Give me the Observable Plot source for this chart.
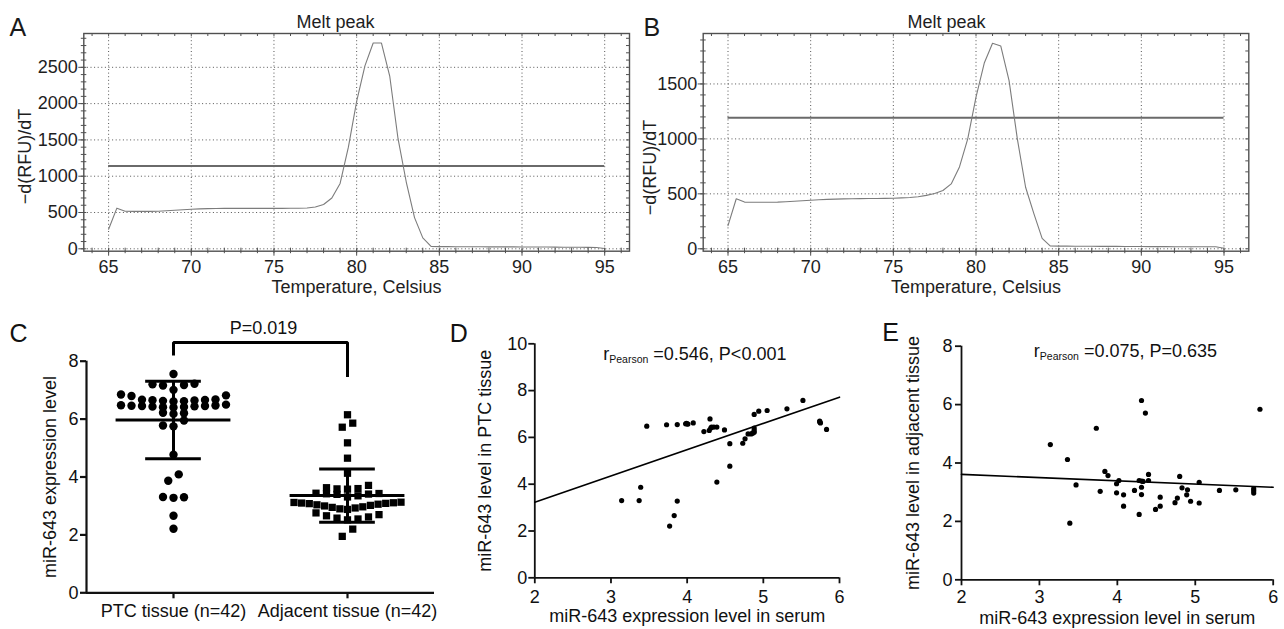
<!DOCTYPE html>
<html>
<head>
<meta charset="utf-8">
<script src="https://cdn.jsdelivr.net/npm/d3@7"></script>
<script src="https://cdn.jsdelivr.net/npm/@observablehq/plot@0.6"></script>
<style>
html,body{margin:0;padding:0;background:#fff;}
#fig{position:relative;width:1284px;height:629px;overflow:hidden;background:#fff;}
#fig svg{position:absolute;overflow:visible;}
</style>
</head>
<body>
<div id="fig"></div>
<script>
// ---------------- data ----------------
// Panels A/B: melt peak curves
const meltTemp = [65,65.5,66,66.5,67,67.5,68,68.5,69,69.5,
                  70,70.5,71,71.5,72,72.5,73,73.5,74,74.5,
                  75,75.5,76,76.5,77,77.5,78,78.5,79,79.5,
                  80,80.5,81,81.5,82,82.5,83,83.5,84,84.5,
                  85,85.5,86,86.5,87,87.5,88,88.5,89,89.5,
                  90,90.5,91,91.5,92,92.5,93,93.5,94,94.5,
                  95];
const meltA = [270,560,518,515,515,516,518,524,531,538,
               545,550,554,556,557,557,557,557,557,557,
               557,557,558,558,562,575,610,700,900,1400,
               2030,2520,2835,2835,2380,1520,920,430,150,32,
               30,30,29,29,28,28,27,27,26,26,
               25,25,24,24,23,22,22,21,20,19,
               5];
const meltB = [210,455,425,424,424,424,425,428,432,437,
               442,446,450,452,454,455,456,457,458,459,
               460,463,467,474,486,503,530,590,745,1000,
               1380,1690,1870,1845,1530,1000,560,320,95,25,
               24,24,23,23,23,22,22,22,21,21,
               21,20,20,20,19,19,19,18,18,18,
               5];
const thresholdA = [1140];
const thresholdB = [1192];
const meltXTicks = [65, 70, 75, 80, 85, 90, 95];
const meltYTicksA = [0, 500, 1000, 1500, 2000, 2500];
const meltYTicksB = [0, 500, 1000, 1500];
const meltTitle = "Melt peak";
const meltXLabel = "Temperature, Celsius";
const meltYLabel = "\u2212d(RFU)/dT";

// Panel C: scatter dot plot
const groupNames = ["PTC tissue (n=42)", "Adjacent tissue (n=42)"];
const ptcTissue = [7.56,
  7.22, 7.20, 7.18, 7.16, 7.01,
  6.85, 6.82, 6.80, 6.68, 6.67, 6.66, 6.65, 6.64, 6.63, 6.62, 6.61,
  6.50, 6.48, 6.47, 6.46, 6.45, 6.45, 6.44, 6.43, 6.42, 6.41, 6.40,
  6.22, 6.20, 6.18,
  5.95, 5.78, 5.75,
  4.77, 4.09, 3.87, 3.31, 3.30, 3.28, 2.66, 2.21];
const adjacentTissue = [6.15, 5.86, 5.72, 5.18, 4.65, 4.13,
  3.71, 3.63, 3.60, 3.59, 3.58,
  3.44, 3.43, 3.42, 3.41, 3.40, 3.35, 3.31,
  3.13, 3.12, 3.11, 3.10, 3.09, 3.08, 3.06, 3.04, 3.02, 3.00, 2.97, 2.95, 2.93, 2.90, 2.88,
  2.76, 2.70, 2.66, 2.62, 2.58, 2.55, 2.52,
  2.20, 1.95];
const groupMean = [5.97, 3.36];
const groupSD = [1.34, 0.92];
const bracketX = [0, 0, 1, 1];
const bracketY = [8.2, 8.65, 8.65, 7.45];
const pLabel = "P=0.019";
const cYTicks = [0, 2, 4, 6, 8];
const cYLabel = "miR-643 expression level";

// Panels D/E: correlation scatter
const serumD = [3.14,3.37,3.39,3.47,3.73,3.77,3.83,3.87,3.87,3.98,
                4.00,4.08,4.22,4.29,4.30,4.32,4.35,4.39,4.39,4.49,
                4.56,4.56,4.73,4.76,4.80,4.84,4.88,4.88,4.88,4.94,
                5.05,5.31,5.52,5.74,5.75,5.83,4.01,4.31,4.88,5.74,
                4.86,3.99];
const ptcD   = [3.30,3.30,3.87,6.48,6.54,2.21,2.66,6.55,3.28,6.58,
                6.58,6.62,6.25,6.30,6.79,6.44,6.44,6.44,4.09,6.32,
                5.73,4.77,5.75,5.94,6.15,6.15,6.22,6.40,6.98,7.12,
                7.15,7.22,7.58,6.70,6.62,6.34,6.57,6.40,6.30,6.66,
                6.18,6.60];
const serumE = [3.14,3.36,3.39,3.47,3.73,3.78,3.84,3.88,3.99,3.99,
                4.02,4.08,4.08,4.22,4.28,4.28,4.31,4.31,4.31,4.33,
                4.36,4.40,4.40,4.49,4.55,4.55,4.74,4.77,4.80,4.83,
                4.89,4.90,4.94,5.05,5.05,5.31,5.52,5.75,5.75,5.83,
                4.31,5.75];
const adjE   = [4.63,4.12,1.94,3.25,5.19,3.03,3.71,3.57,2.98,3.29,
                3.40,2.91,2.52,3.06,2.24,3.40,6.14,3.17,2.92,3.37,
                5.71,3.61,3.40,2.41,2.83,2.52,2.64,2.80,3.54,3.15,
                2.91,3.08,2.69,3.34,2.63,3.06,3.08,3.12,2.97,5.84,
                3.38,3.05];
const corrXTicks = [2, 3, 4, 5, 6];
const dYTicks = [0, 2, 4, 6, 8, 10];
const eYTicks = [0, 2, 4, 6, 8];
const fitX = [2, 6];
const fitD = [3.23, 7.72];
const fitE = [3.61, 3.17];
const statD = ["r", "Pearson", " =0.546, P<0.001"];
const statE = ["r", "Pearson", " =0.075, P=0.635"];
const corrXLabel = "miR-643 expression level in serum";
const dYLabel = "miR-643 level in PTC tissue";
const eYLabel = "miR-643 level in adjacent tissue";

// ---------------- helpers ----------------
const FONT = '"Liberation Sans", Arial, Helvetica, sans-serif';
const fig = document.getElementById("fig");
function place(svg, left, top) {
  svg.style.position = "absolute";
  svg.style.left = left + "px";
  svg.style.top = top + "px";
  svg.style.maxWidth = "none";
  svg.style.background = "transparent";
  svg.style.overflow = "visible";
  fig.appendChild(svg);
}
// text placed at (px, py) svg coords: baseline for horizontal text, centre for rotated text
function lbl(text, px, py, m, o = {}) {
  const fs = o.fontSize ?? 18;
  const rot = o.rotate ?? 0;
  return Plot.text([text], {
    text: d => d,
    frameAnchor: "top-left",
    dx: px - m.left,
    dy: py - m.top - (rot ? 0 : 0.32 * fs),
    lineAnchor: "middle",
    textAnchor: o.textAnchor ?? "middle",
    fontSize: fs,
    rotate: rot,
    fill: o.fill ?? "#111"
  });
}
function subscriptFix(svg) {
  const ns = "http://www.w3.org/2000/svg";
  svg.querySelectorAll("text").forEach(t => {
    if (!t.textContent.includes("|")) return;
    const parts = t.textContent.split("|");
    t.textContent = "";
    const a = document.createElementNS(ns, "tspan"); a.textContent = parts[0]; t.appendChild(a);
    const b = document.createElementNS(ns, "tspan"); b.textContent = parts[1];
    b.setAttribute("font-size", "10.5"); b.setAttribute("dy", "2.5"); t.appendChild(b);
    const c = document.createElementNS(ns, "tspan"); c.textContent = parts[2];
    c.setAttribute("dy", "-2.5"); t.appendChild(c);
  });
}
// scatter-dot-plot layout: values grouped into rows, spread symmetrically, lowest value in the centre
function rowSwarm(values, t, sMax, wMax) {
  const idx = d3.range(values.length).sort((a, b) => values[b] - values[a]);
  const out = new Array(values.length);
  let k = 0, flip = 1;
  while (k < idx.length) {
    const start = values[idx[k]];
    const row = [];
    while (k < idx.length && start - values[idx[k]] <= t + 1e-9) row.push(idx[k++]);
    const n = row.length;
    const s = n > 1 ? Math.min(sMax, wMax / (n - 1)) : 0;
    const pos = d3.range(n).map(j => (j - (n - 1) / 2) * s);
    const f = flip;
    pos.sort((a, b) => Math.abs(a) - Math.abs(b) || f * (b - a));
    row.sort((a, b) => values[a] - values[b]);
    row.forEach((i, j) => { out[i] = pos[j]; });
    flip = -flip;
  }
  return out;
}

// ---------------- panels A / B ----------------
function meltPanel(vals, thr, yTicks, yDomain, W, m, left, t) {
  const H = 300;
  const pw = W - m.left - m.right, ph = H - m.top - m.bottom;
  const data = meltTemp.map((x, i) => ({t: x, v: vals[i]}));
  const minorX = d3.range(64, 97);
  const minorY = d3.range(0, yDomain[1], 100);
  const ext = d3.extent(meltTemp);
  const ink = "#505050";
  const svg = Plot.plot({
    width: W, height: H,
    marginTop: m.top, marginRight: m.right, marginBottom: m.bottom, marginLeft: m.left,
    x: {domain: [63.5, 96.5], label: null},
    y: {domain: yDomain, label: null},
    style: {fontFamily: FONT, fontSize: "18px", color: "#1e1e1e", background: "transparent", overflow: "visible"},
    marks: [
      Plot.gridX({ticks: meltXTicks, stroke: "#555", strokeOpacity: 1, strokeWidth: 1, strokeDasharray: "1,2.6"}),
      Plot.gridY({ticks: yTicks, stroke: "#555", strokeOpacity: 1, strokeWidth: 1, strokeDasharray: "1,2.6"}),
      Plot.ruleY(thr, {y: d => d, x1: ext[0], x2: ext[1], stroke: "#6a6a6a", strokeWidth: 2}),
      Plot.line(data, {x: "t", y: "v", stroke: "#7c7c7c", strokeWidth: 1.1}),
      Plot.frame({stroke: ink, strokeWidth: 1.4}),
      Plot.ruleX(minorX, {x: d => d, insetTop: ph - 3, insetBottom: -2.5, stroke: ink}),
      Plot.ruleX(minorX, {x: d => d, insetBottom: ph - 3, stroke: ink}),
      Plot.ruleY(minorY, {y: d => d, insetRight: pw - 3, insetLeft: -2.5, stroke: ink}),
      Plot.ruleY(minorY, {y: d => d, insetLeft: pw - 3, stroke: ink}),
      Plot.axisX({ticks: meltXTicks, tickSize: 5, tickPadding: 4, tickFormat: d => String(d), stroke: ink, label: null, fontSize: 18}),
      Plot.axisY({ticks: yTicks, tickSize: 5, tickPadding: 1, tickFormat: d => String(d), stroke: ink, label: null, fontSize: 18}),
      lbl(t.letter, t.letterX, 35, m, {fontSize: 25, textAnchor: "start", fill: "#1a1a1a"}),
      lbl(meltTitle, t.titleX, 27, m, {fill: "#1e1e1e"}),
      lbl(meltXLabel, t.xlabX, 292, m, {fill: "#1e1e1e"}),
      lbl(meltYLabel, t.ylabX, t.ylabY, m, {rotate: -90, fill: "#1e1e1e"})
    ]
  });
  place(svg, left, 0);
}
meltPanel(meltA, thresholdA, meltYTicksA, [-33, 2966], 640,
  {top: 33, right: 11, bottom: 49.3, left: 83.3}, 0,
  {letter: "A", letterX: 9, titleX: 335, xlabX: 356, ylabX: 25, ylabY: 156});
meltPanel(meltB, thresholdB, meltYTicksB, [-22, 1959], 644,
  {top: 33, right: 35.7, bottom: 49.3, left: 62.7}, 640,
  {letter: "B", letterX: 3, titleX: 306, xlabX: 335.5, ylabX: 10, ylabY: 167});

// ---------------- panel C ----------------
(function () {
  const W = 440, H = 329, m = {top: 60.7, right: 6, bottom: 36.7, left: 86};
  const yDom = [0, 8], xDom = [-0.5, 1.5];
  const kx = (W - m.left - m.right) / (xDom[1] - xDom[0]);
  const offP = rowSwarm(ptcTissue, 0.26, 10.5, 107);
  const offA = rowSwarm(adjacentTissue, 0.26, 10.5, 107);
  const ptc = ptcTissue.map((v, i) => ({x: offP[i] / kx, y: v}));
  const adj = adjacentTissue.map((v, i) => ({x: 1 + offA[i] / kx, y: v}));
  const stats = groupMean.map((mu, i) => ({g: i, mu, sd: groupSD[i]}));
  const bracket = bracketX.map((x, i) => ({x, y: bracketY[i]}));
  const lw = 2.2;
  const svg = Plot.plot({
    width: W, height: H,
    marginTop: m.top, marginRight: m.right, marginBottom: m.bottom, marginLeft: m.left,
    x: {domain: xDom, label: null},
    y: {domain: yDom, label: null},
    style: {fontFamily: FONT, fontSize: "18px", color: "#111", background: "transparent", overflow: "visible"},
    marks: [
      Plot.ruleY([yDom[0]], {y: d => d, stroke: "#111", strokeWidth: lw}),
      Plot.ruleX([xDom[0]], {x: d => d, y1: yDom[0], y2: yDom[1], stroke: "#111", strokeWidth: lw}),
      Plot.axisY({ticks: cYTicks, tickSize: 6, tickPadding: 2, strokeWidth: lw, stroke: "#111", label: null, fontSize: 18}),
      Plot.axisX({ticks: [0, 1], tickSize: 6, tickPadding: 5, strokeWidth: lw, stroke: "#111", label: null, fontSize: 18,
                  tickFormat: i => groupNames[i]}),
      Plot.dot(ptc, {x: "x", y: "y", r: 4.2, fill: "#000", stroke: "none"}),
      Plot.dot(adj, {x: "x", y: "y", r: 4.1, symbol: "square", fill: "#000", stroke: "none"}),
      Plot.ruleX(stats, {x: "g", y1: d => d.mu - d.sd, y2: d => d.mu + d.sd, stroke: "#000", strokeWidth: 3}),
      Plot.ruleY(stats, {y: "mu", x1: d => d.g - 0.33, x2: d => d.g + 0.33, stroke: "#000", strokeWidth: 3}),
      Plot.ruleY(stats, {y: d => d.mu + d.sd, x1: d => d.g - 0.16, x2: d => d.g + 0.16, stroke: "#000", strokeWidth: 3}),
      Plot.ruleY(stats, {y: d => d.mu - d.sd, x1: d => d.g - 0.16, x2: d => d.g + 0.16, stroke: "#000", strokeWidth: 3}),
      Plot.line(bracket, {x: "x", y: "y", stroke: "#000", strokeWidth: 3, strokeLinejoin: "miter", strokeLinecap: "butt"}),
      Plot.text([pLabel], {text: d => d, x: (bracketX[1] + bracketX[2]) / 2, y: bracketY[1], dx: 3, dy: -14.5,
                           lineAnchor: "middle", textAnchor: "middle", fontSize: 18, fill: "#111"}),
      lbl("C", 9, 41.7, m, {fontSize: 25, textAnchor: "start"}),
      lbl(cYLabel, 50, 176.5, m, {rotate: -90})
    ]
  });
  place(svg, 0, 300);
})();

// ---------------- panels D / E ----------------
function corrPanel(xs, ys, fitY, yTicks, yDom, W, m, left, t) {
  const H = 329;
  const xDom = [2, 6];
  const pts = xs.map((x, i) => ({x, y: ys[i]}));
  const fit = fitX.map((x, i) => ({x, y: fitY[i]}));
  const lw = 1.8;
  const svg = Plot.plot({
    width: W, height: H,
    marginTop: m.top, marginRight: m.right, marginBottom: m.bottom, marginLeft: m.left,
    x: {domain: xDom, label: null},
    y: {domain: yDom, label: null},
    style: {fontFamily: FONT, fontSize: "18px", color: "#111", background: "transparent", overflow: "visible"},
    marks: [
      Plot.ruleY([yDom[0]], {y: d => d, x1: xDom[0], x2: xDom[1], stroke: "#111", strokeWidth: lw}),
      Plot.ruleX([xDom[0]], {x: d => d, y1: yDom[0], y2: yDom[1], stroke: "#111", strokeWidth: lw}),
      Plot.axisX({ticks: corrXTicks, tickSize: 6, tickPadding: t.xPad, strokeWidth: lw, stroke: "#111", label: null, fontSize: 18,
                  tickFormat: d => String(d)}),
      Plot.axisY({ticks: yTicks, tickSize: 6, tickPadding: t.yPad, strokeWidth: lw, stroke: "#111", label: null, fontSize: 18,
                  tickFormat: d => String(d)}),
      Plot.line(fit, {x: "x", y: "y", stroke: "#000", strokeWidth: 1.6}),
      Plot.dot(pts, {x: "x", y: "y", r: 2.6, fill: "#000", stroke: "none"}),
      lbl(t.stat.join("|"), t.statX, t.statY, m, {textAnchor: "start"}),
      lbl(t.letter, t.letterX, t.letterY, m, {fontSize: 25, textAnchor: "start"}),
      lbl(corrXLabel, t.xlabX, t.xlabY, m),
      lbl(t.ylab, t.ylabX, t.ylabY, m, {rotate: -90})
    ]
  });
  subscriptFix(svg);
  place(svg, left, 300);
}
corrPanel(serumD, ptcD, fitD, dYTicks, [0, 10], 430,
  {top: 43.3, right: 21, bottom: 51.7, left: 104.3}, 430,
  {stat: statD, statX: 172.7, statY: 59.5, letter: "D", letterX: 19.3, letterY: 41.7,
   xlabX: 256.7, xlabY: 321.7, ylab: dYLabel, ylabX: 55, ylabY: 160.3, xPad: 6, yPad: 1.5});
corrPanel(serumE, adjE, fitE, eYTicks, [0, 8], 424,
  {top: 45.7, right: 11.3, bottom: 49.7, left: 101}, 860,
  {stat: statE, statX: 173.3, statY: 56.7, letter: "E", letterX: 21.7, letterY: 40,
   xlabX: 256.8, xlabY: 323, ylab: eYLabel, ylabX: 53, ylabY: 162.5, xPad: 4, yPad: 3});
</script>
</body>
</html>
